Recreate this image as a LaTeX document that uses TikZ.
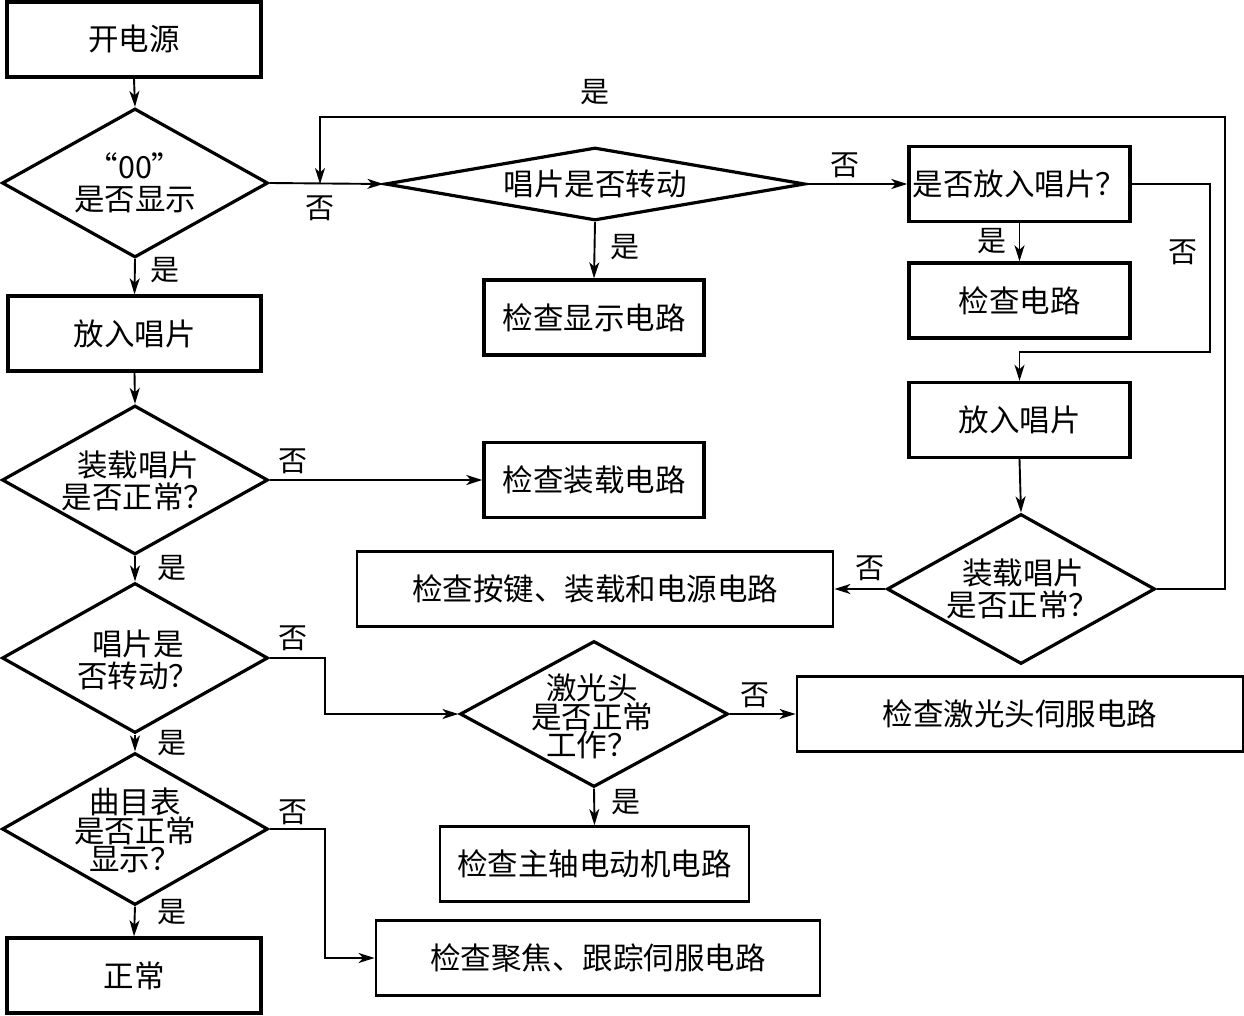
\documentclass[tikz,border=0pt]{standalone}
\usepackage{fontspec}
\newfontfamily\cjk{Noto Sans CJK SC}
\usetikzlibrary{shapes.geometric,arrows.meta}
\begin{document}
\begin{tikzpicture}[x=1pt,y=-1pt,
  txt/.style={font=\cjk\fontsize{30.5}{31.5}\selectfont,inner sep=0pt,align=center},
  txtb/.style={font=\cjk\fontsize{30.5}{28}\selectfont,inner sep=0pt,align=center},
  box/.style={draw,line width=3.4pt,inner sep=0pt,minimum width=#1,minimum height=75pt,font=\cjk\fontsize{30.5}{31.5}\selectfont},
  tbox/.style={box=#1,line width=2.8pt},
  dia/.style n args={2}{draw,diamond,line width=3.2pt,inner sep=0pt,minimum width=#1,minimum height=#2},
  lbl/.style={font=\cjk\fontsize{29}{30}\selectfont,inner sep=0pt},
  arr/.style={line width=1.9pt,-{Stealth[length=16pt,width=10pt,inset=4.5pt]}},
  ln/.style={line width=1.9pt}]
\useasboundingbox (0,0) rectangle (1244,1016);

% left column
\node[box=254] (b1) at (134,39.5) {开电源};
\node[dia={266}{149}] (d1) at (135,183) {};
\node[txt] (d1t) at (135,183) {“00”\\是否显示};
\node[box=253] (b2) at (134.5,333.5) {放入唱片};
\node[dia={266}{149}] (d2) at (135,480) {};
\node[txt] (d2t) at (138,481) {装载唱片\\是否正常？};
\node[dia={266}{150}] (d3) at (135,658) {};
\node[txt] (d3t) at (138,660) {唱片是\\否转动？};
\node[dia={266}{152}] (d4) at (135,829) {};
\node[txtb] (d4t) at (135,830) {曲目表\\是否正常\\显示？};
\node[box=254] (b3) at (134,975.5) {正常};

% middle column
\node[dia={420}{73}] (m1) at (595,184) {};
\node[txt] (m1t) at (595,184) {唱片是否转动};
\node[box=220] (m2) at (594,317.5) {检查显示电路};
\node[box=220] (m3) at (594,480) {检查装载电路};
\node[tbox=476] (m4) at (595,589) {检查按键、装载和电源电路};
\node[dia={268}{146}] (m5) at (594,714) {};
\node[txtb] (m5t) at (592,716) {激光头\\是否正常\\工作？};
\node[tbox=309] (m6) at (594.5,864) {检查主轴电动机电路};
\node[tbox=444] (m7) at (598,958) {检查聚焦、跟踪伺服电路};
\node[tbox=446] (r0) at (1020,714) {检查激光头伺服电路};

% right column
\node[box=221] (r1) at (1019.5,184) {是否放入唱片？};
\node[box=221] (r2) at (1019.5,300.5) {检查电路};
\node[box=221] (r3) at (1019.5,420) {放入唱片};
\node[dia={268}{150}] (r4) at (1021,589) {};
\node[txt] (r4t) at (1023,589) {装载唱片\\是否正常？};

% helper coordinates
\coordinate (loopTop) at (1225,117);
\coordinate (join1) at (320,184);
\coordinate (r1bend) at (1210,352);
\coordinate (c3) at (325,714);
\coordinate (c4) at (325,958);

% connectors
\draw[arr] (b1.south) -- (d1.north);
\draw[arr] (d1.south) -- (b2.north);
\draw[arr] (b2.south) -- (d2.north);
\draw[arr] (d2.south) -- (d3.north);
\draw[arr] (d3.south) -- (d4.north);
\draw[arr] (d4.south) -- (b3.north);
\draw[arr] (d1.east) -- (m1.west);
\draw[arr] (r4.east) -| (loopTop) -| (join1);
\draw[arr] (m1.east) -- (r1.west);
\draw[arr] (m1.south) -- (m2.north);
\draw[arr] (r1.south) -- (r2.north);
\draw[arr] (r1.east) -| (r1bend) -| (r3.north);
\draw[arr] (r3.south) -- (r4.north);
\draw[arr] (r4.west) -- (m4.east);
\draw[arr] (d2.east) -- (m3.west);
\draw[arr] (d3.east) -| (c3) -- (m5.west);
\draw[arr] (m5.east) -- (r0.west);
\draw[arr] (m5.south) -- (m6.north);
\draw[arr] (d4.east) -| (c4) -- (m7.west);

% labels
\node[lbl] (l1) at (320,208) {否};
\node[lbl] (l2) at (595,92) {是};
\node[lbl] (l3) at (845,165) {否};
\node[lbl] (l4) at (625,247) {是};
\node[lbl] (l5) at (992,241) {是};
\node[lbl] (l6) at (1183,252) {否};
\node[lbl] (l7) at (870,568) {否};
\node[lbl] (l8) at (165,270) {是};
\node[lbl] (l9) at (293,461) {否};
\node[lbl] (l10) at (172,568) {是};
\node[lbl] (l11) at (293,638) {否};
\node[lbl] (l12) at (755,695) {否};
\node[lbl] (l13) at (626,802) {是};
\node[lbl] (l14) at (172,743) {是};
\node[lbl] (l15) at (293,812) {否};
\node[lbl] (l16) at (172,912) {是};
\end{tikzpicture}
\end{document}
